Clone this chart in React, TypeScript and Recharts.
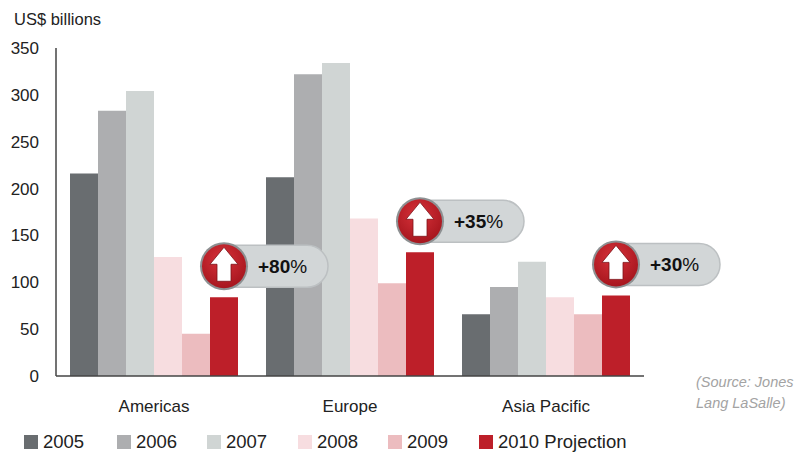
import { BarChart, Bar, XAxis, YAxis, Legend, LabelList } from "recharts";

const regions = ["Americas", "Europe", "Asia Pacific"];
const values2005 = [216, 212, 66];
const values2006 = [283, 322, 95];
const values2007 = [304, 334, 122];
const values2008 = [127, 168, 84];
const values2009 = [45, 99, 66];
const values2010 = [84, 132, 86];
const growth = ["+80", "+35", "+30"];
const yTicks = [0, 50, 100, 150, 200, 250, 300, 350];

const seriesNames = ["2005", "2006", "2007", "2008", "2009", "2010 Projection"];
const seriesColors = ["#696d70", "#adaeb0", "#d0d5d4", "#f7dde0", "#ecbcbf", "#bd1f29"];
const seriesValues = [values2005, values2006, values2007, values2008, values2009, values2010];
const legendLefts = [24, 117, 207, 298, 388, 479];

const chartData = regions.map((region, i) => {
  const row: Record<string, string | number> = { region, growth: growth[i] };
  seriesNames.forEach((name, s) => {
    row[name] = seriesValues[s][i];
  });
  return row;
});

const FONT = '"Liberation Sans", Arial, sans-serif';

// Pill with a red up-arrow badge, hung above the 2010 bar
const GrowthCallout = (props: any) => {
  const { x, y, width, value } = props;
  const cx = x + width / 2;
  const cy = y - 31;
  return (
    <g>
      <rect
        x={cx - 10}
        y={cy - 21}
        width={114}
        height={42}
        rx={21}
        fill="#d2d6d7"
        stroke="#bcc0c2"
        strokeWidth={1.5}
      />
      <circle cx={cx} cy={cy} r={24} fill="#8d9092" />
      <circle cx={cx} cy={cy} r={22} fill="url(#badgeRed)" />
      <path
        d={`M${cx} ${cy - 19} L${cx + 14} ${cy - 2} L${cx + 7} ${cy - 2} L${cx + 7} ${cy + 15} L${cx - 7} ${cy + 15} L${cx - 7} ${cy - 2} L${cx - 14} ${cy - 2} Z`}
        fill="#ffffff"
        stroke="#7d1218"
        strokeWidth={0.8}
      />
      <text x={cx + 34} y={cy + 7} fontFamily={FONT} fontSize={19} fill="#111111">
        <tspan fontWeight="bold">{value}</tspan>
        <tspan>%</tspan>
      </text>
    </g>
  );
};

const LegendRow = ({ payload }: any) => (
  <div style={{ position: "relative", height: 30, fontFamily: FONT, fontSize: 18.5, color: "#222222" }}>
    {payload.map((entry: any, i: number) => (
      <span
        key={entry.value}
        style={{ position: "absolute", left: legendLefts[i], top: 6, display: "flex", alignItems: "center", whiteSpace: "nowrap" }}
      >
        <span style={{ width: 14, height: 14, marginRight: 5, background: entry.color, display: "inline-block" }} />
        {entry.value}
      </span>
    ))}
  </div>
);

export default function App() {
  return (
    <div style={{ position: "absolute", left: 0, top: 0, width: 810, height: 455, background: "#ffffff", overflow: "hidden" }}>
      <BarChart
        width={810}
        height={455}
        data={chartData}
        margin={{ top: 48, right: 166, bottom: 0, left: 0 }}
        barCategoryGap={14}
        barGap={0}
      >
        <defs>
          <radialGradient id="badgeRed" cx="45%" cy="35%" r="70%">
            <stop offset="0%" stopColor="#d8323a" />
            <stop offset="100%" stopColor="#a3141c" />
          </radialGradient>
        </defs>
        <XAxis
          dataKey="region"
          tickLine={false}
          axisLine={{ stroke: "#444444", strokeWidth: 1.5 }}
          tick={{ fill: "#222222", fontSize: 17, fontFamily: FONT }}
          tickMargin={18}
          height={49}
        />
        <YAxis
          width={56}
          domain={[0, 350]}
          ticks={yTicks}
          tickLine={false}
          axisLine={{ stroke: "#444444", strokeWidth: 1.5 }}
          tick={{ fill: "#222222", fontSize: 17, fontFamily: FONT }}
          tickMargin={11}
        />
        <Legend verticalAlign="bottom" content={<LegendRow />} wrapperStyle={{ left: 0, bottom: 0, width: 810 }} />
        {seriesNames.map((name, s) => (
          <Bar key={name} dataKey={name} fill={seriesColors[s]} isAnimationActive={false}>
            {s === seriesNames.length - 1 && (
              <LabelList dataKey="growth" content={<GrowthCallout />} />
            )}
          </Bar>
        ))}
      </BarChart>
      <div style={{ position: "absolute", left: 14, top: 10, fontFamily: FONT, fontSize: 16.5, color: "#222222" }}>
        US$ billions
      </div>
      <div
        style={{
          position: "absolute",
          left: 696,
          top: 372,
          fontFamily: FONT,
          fontSize: 14.5,
          lineHeight: "21px",
          fontStyle: "italic",
          color: "#a3a3a3",
        }}
      >
        (Source: Jones
        <br />
        Lang LaSalle)
      </div>
    </div>
  );
}
